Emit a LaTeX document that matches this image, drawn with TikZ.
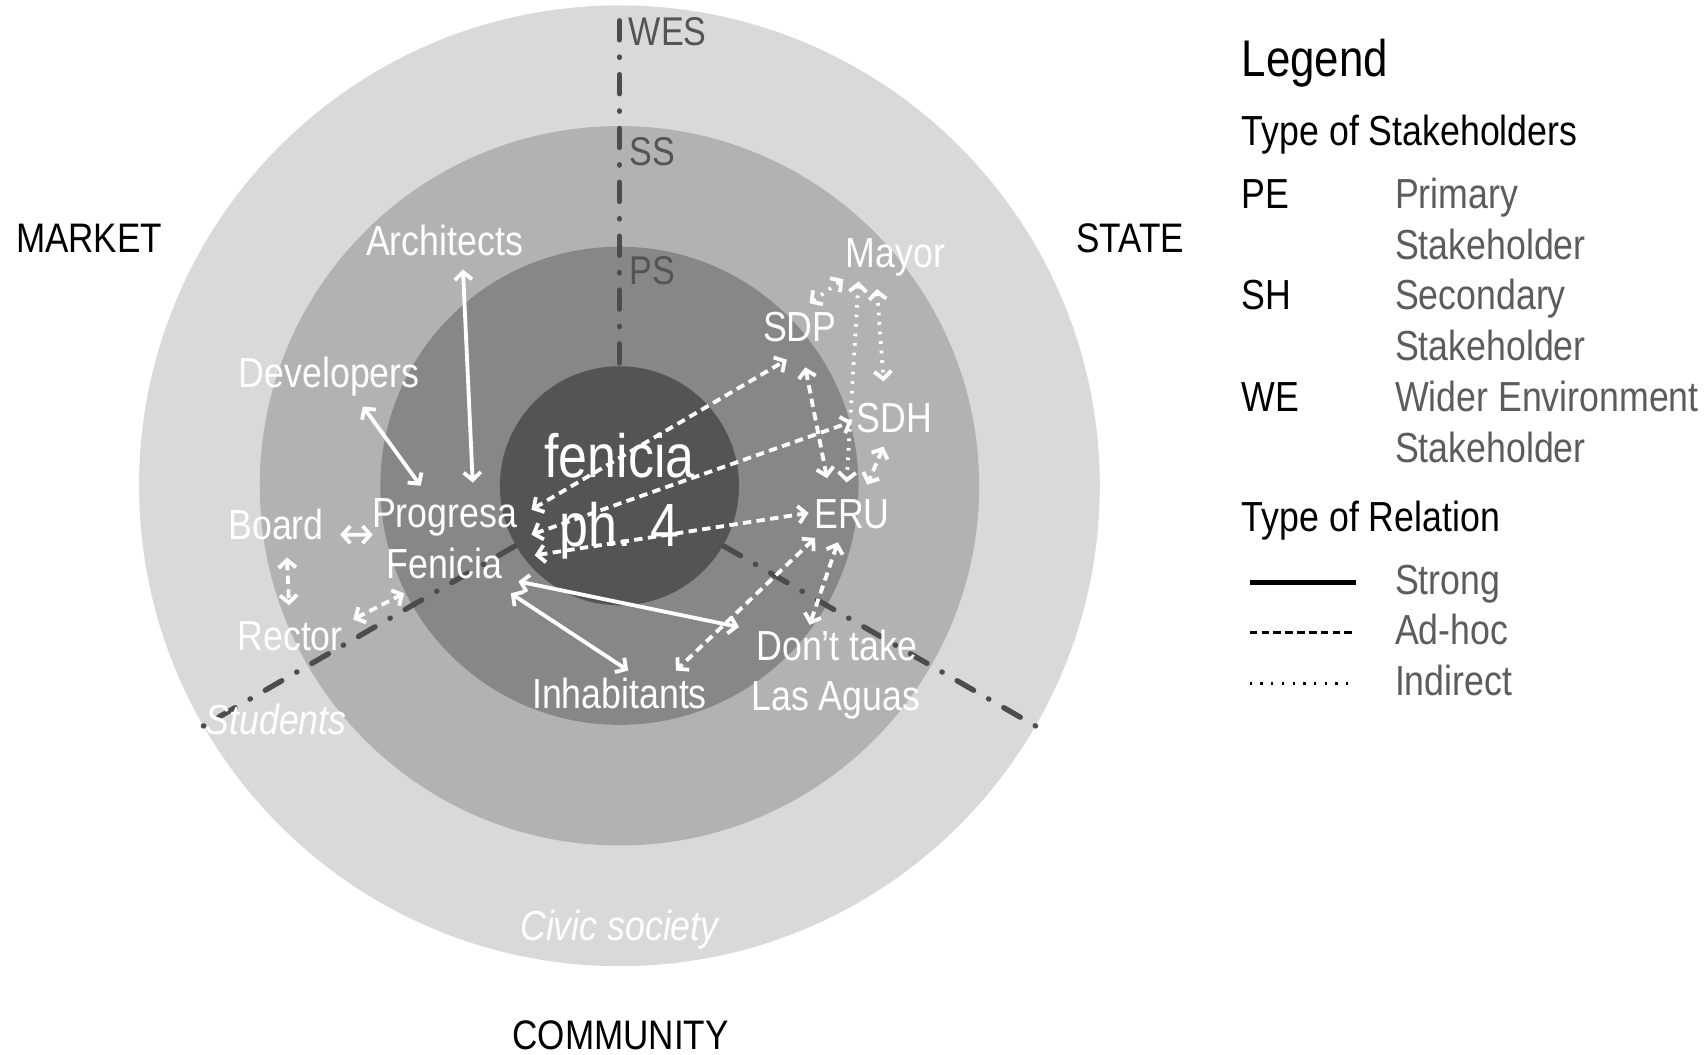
\documentclass[tikz,border=0pt]{standalone}
\usepackage{fontspec}
\setmainfont{Liberation Sans}[FakeStretch=0.85]
\usetikzlibrary{arrows.meta}

\definecolor{ringA}{gray}{0.85}
\definecolor{ringB}{gray}{0.70}
\definecolor{ringC}{gray}{0.53}
\definecolor{core}{gray}{0.33}
\definecolor{axisgray}{gray}{0.30}
\definecolor{ringtext}{gray}{0.33}
\definecolor{legtext}{gray}{0.36}

\tikzset{
  actor/.style={text=white, font=\fontsize{11}{13}\selectfont, anchor=base, inner sep=0pt},
  sector/.style={font=\fontsize{10.8}{13}\selectfont, anchor=base, inner sep=0pt},
  ringlbl/.style={text=ringtext, font=\fontsize{10.5}{13}\selectfont, anchor=base west, inner sep=0pt},
  legitem/.style={font=\fontsize{11}{13}\selectfont, anchor=base west, inner sep=0pt},
  legdesc/.style={legitem, text=legtext},
  strong/.style={white, line width=1pt, <->},
  adhoc/.style={white, line width=1pt, dash pattern=on 2.2pt off 1.4pt, <->},
  indirect/.style={white, line width=1pt, dash pattern=on 0.7pt off 1.8pt, <->},
  divider/.style={axisgray, line width=1.4pt, line cap=round, dash pattern=on 5pt off 4.5pt on 0.1pt off 4.5pt}
}

\begin{document}
\begin{tikzpicture}[y=-1cm, >={Straight Barb[length=2pt,width=4.5pt]}]
\useasboundingbox (0,0) rectangle (15.68,9.70);
\fill[white] (0,0) rectangle (15.68,9.70);

% rings
\fill[ringA] (5.70,4.47) circle (4.42cm);
\fill[ringB] (5.70,4.47) circle (3.31cm);
\fill[ringC] (5.70,4.47) circle (2.20cm);
\fill[core] (5.70,4.47) circle (1.10cm);

% sector dividers
\draw[divider] (5.70,4.47) ++(270:1.13) -- ++(270:3.24);
\draw[divider] (5.70,4.47) ++(150:1.11) -- ++(150:3.32);
\draw[divider] (5.70,4.47) ++(30:1.11) -- ++(30:3.32);

\node[ringlbl] (wes) at (5.78,0.415) {WES};
\node[ringlbl] (ss) at (5.79,1.52) {SS};
\node[ringlbl] (ps) at (5.79,2.62) {PS};

\node[sector] (mkt) at (0.82,2.32) {MARKET};
\node[sector] (state) at (10.40,2.32) {STATE};
\node[sector] (comm) at (5.71,9.66) {COMMUNITY};

% project in the core
\node[actor, font=\fontsize{16}{18}\selectfont] (proj1) at (5.70,4.39) {fenicia};
\node[actor, font=\fontsize{16}{18}\selectfont] (proj2) at (5.70,5.03) {ph. 4};

% stakeholders
\node[actor] (arch) at (4.09,2.35) {Architects};
\node[actor] (dev) at (3.03,3.57) {Developers};
\node[actor] (prog) at (4.09,4.85) {Progresa};
\node[actor] (fen) at (4.09,5.32) {Fenicia};
\node[actor] (board) at (2.54,4.96) {Board};
\node[actor] (rector) at (2.67,5.99) {Rector};
\node[actor, font=\fontsize{11}{13}\selectfont\itshape] (stud) at (2.54,6.76) {Students};
\node[actor] (inhab) at (5.70,6.52) {Inhabitants};
\node[actor] (donta) at (7.70,6.08) {Don’t take};
\node[actor] (aguas) at (7.69,6.54) {Las Aguas};
\node[actor] (eru) at (7.84,4.86) {ERU};
\node[actor] (sdh) at (8.23,3.98) {SDH};
\node[actor] (sdp) at (7.36,3.14) {SDP};
\node[actor] (mayor) at (8.24,2.46) {Mayor};
\node[actor, font=\fontsize{11}{13}\selectfont\itshape] (civic) at (5.70,8.65) {Civic society};

% strong relations
\draw[strong] ([shift={(0.17,0.13)}]arch.base) -- ([shift={(0.26,-0.41)}]prog.base);
\draw[strong] ([shift={(0.31,0.17)}]dev.base) -- ([shift={(-0.22,-0.38)}]prog.base);
\draw[strong] ([shift={(0.59,-0.04)}]board.base) -- ([shift={(-0.66,0.07)}]prog.base);
\draw[strong] ([shift={(0.61,0.14)}]fen.base) -- ([shift={(0.08,-0.35)}]inhab.base);
\draw[strong] ([shift={(0.68,0.03)}]fen.base) -- ([shift={(-0.90,-0.31)}]donta.base);

% ad-hoc relations
\draw[adhoc] ([shift={(0.80,-0.16)}]prog.base) -- ([shift={(-0.12,0.17)}]sdp.base);
\draw[adhoc] ([shift={(0.80,0.07)}]prog.base) -- ([shift={(-0.39,-0.10)}]sdh.base);
\draw[adhoc] ([shift={(0.83,0.26)}]prog.base) -- ([shift={(-0.40,-0.14)}]eru.base);
\draw[adhoc] ([shift={(0.05,0.24)}]sdp.base) -- ([shift={(-0.23,-0.46)}]eru.base);
\draw[adhoc] ([shift={(-0.10,0.13)}]sdh.base) -- ([shift={(0.14,-0.40)}]eru.base);
\draw[adhoc] ([shift={(-0.34,0.09)}]eru.base) -- ([shift={(0.52,-0.35)}]inhab.base);
\draw[adhoc] ([shift={(-0.13,0.13)}]eru.base) -- ([shift={(-0.25,-0.33)}]donta.base);
\draw[adhoc] ([shift={(0.10,0.17)}]board.base) -- ([shift={(-0.01,-0.42)}]rector.base);
\draw[adhoc] ([shift={(0.58,-0.29)}]rector.base) -- ([shift={(-0.37,0.14)}]fen.base);

% indirect relations
\draw[indirect] ([shift={(0.09,-0.35)}]sdp.base) -- ([shift={(-0.48,0.11)}]mayor.base);
\draw[indirect] ([shift={(-0.34,0.13)}]mayor.base) -- ([shift={(-0.05,-0.42)}]eru.base);
\draw[indirect] ([shift={(-0.17,0.20)}]mayor.base) -- ([shift={(-0.10,-0.47)}]sdh.base);

% legend
\node[legitem, font=\fontsize{13.5}{16}\selectfont] (leg) at (11.42,0.70) {Legend};
\node[legitem] (legtype) at (11.42,1.34) {Type of Stakeholders};
\node[legitem] (pe) at (11.42,1.92) {PE};
\node[legdesc] (pedesc) at (12.83,1.92) {Primary};
\node[legdesc] (pedesc2) at (12.83,2.39) {Stakeholder};
\node[legitem] (sh) at (11.42,2.85) {SH};
\node[legdesc] (shdesc) at (12.83,2.85) {Secondary};
\node[legdesc] (shdesc2) at (12.83,3.32) {Stakeholder};
\node[legitem] (we) at (11.42,3.79) {WE};
\node[legdesc] (wedesc) at (12.83,3.79) {Wider Environment};
\node[legdesc] (wedesc2) at (12.83,4.26) {Stakeholder};
\node[legitem] (legrel) at (11.42,4.89) {Type of Relation};
\node[legdesc] (strongtxt) at (12.83,5.47) {Strong};
\node[legdesc] (adhoctxt) at (12.83,5.93) {Ad-hoc};
\node[legdesc] (indtxt) at (12.83,6.40) {Indirect};
\draw[line width=1.1pt] (11.50,5.36) -- (12.48,5.36);
\draw[line width=0.6pt, dash pattern=on 2pt off 1.1pt] (11.50,5.82) -- (12.48,5.82);
\draw[line width=0.6pt, dash pattern=on 0.6pt off 2.2pt] (11.50,6.29) -- (12.48,6.29);
\end{tikzpicture}
\end{document}
